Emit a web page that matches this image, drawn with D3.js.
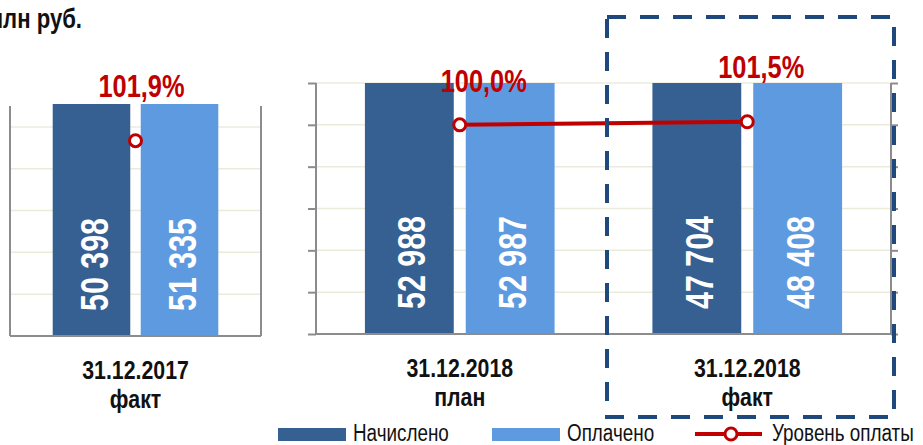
<!DOCTYPE html>
<html>
<head>
<meta charset="utf-8">
<script src="https://cdn.jsdelivr.net/npm/d3@7"></script>
<style>
  body { margin: 0; background: #fff; }
  svg { display: block; font-family: "Liberation Sans Narrow", "Arial Narrow", "Liberation Sans", Arial, sans-serif; }
</style>
</head>
<body>
<svg id="chart" width="923" height="445"></svg>
<script>
"use strict";

// data
const periods = ["31.12.2017", "31.12.2018", "31.12.2018"];
const periodTypes = ["факт", "план", "факт"];
const accrued = [50398, 52988, 47704];
const paid = [51335, 52987, 48408];
const payLevel = [101.9, 100.0, 101.5];
const seriesNames = ["Начислено", "Оплачено", "Уровень оплаты"];
const barKeys = ["accrued", "paid"];

const DARK = "#366092", LIGHT = "#5E9AE0", RED = "#C00000", AXIS = "#8c8c8c", GRID = "#ebebdc";
// no narrow font installed, so squeeze the regular one horizontally
const SQUEEZE = 0.82;

let svg = d3.select("#chart");

// place a text at (x,y), optionally rotated, squeezed along its own direction
function place(sel, fx, fy, rot, k) {
    sel.attr("transform", function(d, i) {
        let t = `translate(${fx(d, i)},${fy(d, i)})`;
        if (rot) t += ` rotate(${rot})`;
        return t + ` scale(${k || SQUEEZE},1)`;
    });
}

// two plot panels: the first holds the 2017 column, the second the 2018 columns
let panels = [
    {idx: [0], x0: 10, x1: 261, top: 106, bottom: 336, max: 41250, ticksOut: false},
    {idx: [1, 2], x0: 316, x1: 891, top: 83, bottom: 334, max: 45000, ticksOut: true}
];

// label nudges (Excel labels were moved by hand)
let labelNudge = [{dx: 6, dy: -44}, {dx: 24, dy: -33}, {dx: 14, dy: -44}];

let color = d3.scaleOrdinal().domain(barKeys).range([DARK, LIGHT]);

panels.forEach(p => {
    let x = d3.scaleBand().domain(p.idx).range([p.x0, p.x1]);
    let xs = d3.scaleBand().domain(barKeys).range([0, x.bandwidth()]).paddingInner(0.119).paddingOuter(0.485);
    let y = d3.scaleLinear().domain([0, p.max]).range([p.bottom, p.top]).clamp(true);
    let y2 = d3.scaleLinear().domain([0, 120]).range([p.bottom, p.top]);
    let g = svg.append("g");

    // grid lines
    let ticks = d3.range(0, p.max + 1, 7500);
    g.selectAll(".grid").data(ticks.filter(t => t > 0)).enter().append("line")
        .attr("x1", p.x0).attr("x2", p.x1)
        .attr("y1", d => y(d)).attr("y2", d => y(d))
        .attr("stroke", GRID).attr("stroke-width", 1.5);

    // bars
    let groups = g.selectAll(".grp").data(p.idx).enter().append("g")
        .attr("transform", i => `translate(${x(i)},0)`);
    let cells = groups.selectAll("g").data(i => [
        {key: "accrued", value: accrued[i]},
        {key: "paid", value: paid[i]}
    ]).enter().append("g");
    cells.append("rect")
        .attr("x", d => xs(d.key))
        .attr("y", d => y(d.value) - (p.ticksOut ? 0 : 2))
        .attr("width", xs.bandwidth())
        .attr("height", d => y(0) - y(d.value) + (p.ticksOut ? 0 : 2))
        .attr("fill", d => color(d.key));
    cells.append("text")
        .attr("dy", "0.36em")
        .attr("fill", "#fff").attr("font-weight", "bold").attr("font-size", "39px")
        .text(d => d3.format(",")(d.value).replace(/,/g, " "))
        .call(place, d => xs(d.key) + xs.bandwidth() / 2 + 2, () => y(0) - 25, -90, 0.78);

    // axes
    let axisL = d3.axisLeft(y).tickValues(ticks).tickSize(p.ticksOut ? 8 : 0).tickFormat("");
    let axisR = d3.axisRight(y).tickValues(ticks).tickSize(p.ticksOut ? 7 : 0).tickFormat("");
    [[axisL, p.x0], [axisR, p.x1]].forEach(([ax, xp]) => {
        let a = g.append("g").attr("transform", `translate(${xp},0)`).call(ax);
        a.selectAll("path,line").attr("stroke", AXIS).attr("stroke-width", 2);
        a.select(".domain").attr("d", `M0,${p.top}V${p.bottom}`);
    });
    g.append("line").attr("x1", p.x0).attr("x2", p.x1).attr("y1", p.bottom).attr("y2", p.bottom)
        .attr("stroke", AXIS).attr("stroke-width", 2);

    // category labels, two lines
    let cx = i => x(i) + x.bandwidth() / 2;
    [[periods, 43], [periodTypes, 72]].forEach(([arr, off]) => {
        g.selectAll(null).data(p.idx).enter().append("text")
            .attr("text-anchor", "middle").attr("font-weight", "bold").attr("font-size", "26px").attr("fill", "#111")
            .text(i => arr[i])
            .call(place, cx, () => p.bottom + off);
    });

    // payment level line
    let line = d3.line().x(i => cx(i)).y(i => y2(payLevel[i]));
    g.append("path").datum(p.idx).attr("d", line)
        .attr("fill", "none").attr("stroke", RED).attr("stroke-width", 4);
    g.selectAll(".pt").data(p.idx).enter().append("circle")
        .attr("cx", cx).attr("cy", i => y2(payLevel[i])).attr("r", 6)
        .attr("fill", "#fff").attr("stroke", RED).attr("stroke-width", 3);
    g.selectAll(".pl").data(p.idx).enter().append("text")
        .attr("text-anchor", "middle").attr("font-weight", "bold").attr("font-size", "31px").attr("fill", RED)
        .text(i => d3.format(".1f")(payLevel[i]).replace(".", ",") + "%")
        .call(place, i => cx(i) + labelNudge[i].dx, i => y2(payLevel[i]) + labelNudge[i].dy);
});

// units
svg.append("text").datum(0).attr("text-anchor", "end")
    .attr("font-weight", "bold").attr("font-size", "27px").attr("fill", "#111").text("млн руб.")
    .call(place, () => 82, () => 28);

// highlight box round the 2018 fact column
svg.append("rect").attr("x", 607).attr("y", 17).attr("width", 287).attr("height", 400)
    .attr("fill", "none").attr("stroke", "#1f487c").attr("stroke-width", 4).attr("stroke-dasharray", "19 14");

// legend
let legend = svg.append("g").attr("font-size", "23px").attr("fill", "#111");
[[278, DARK], [492, LIGHT]].forEach(([lx, c], i) => {
    legend.append("rect").attr("x", lx).attr("y", 428).attr("width", 68).attr("height", 13).attr("fill", c);
    legend.append("text").datum(i).text(seriesNames[i]).call(place, () => lx + 75, () => 441);
});
legend.append("line").attr("x1", 695).attr("x2", 762).attr("y1", 434).attr("y2", 434)
    .attr("stroke", RED).attr("stroke-width", 4);
legend.append("circle").attr("cx", 731).attr("cy", 434).attr("r", 6)
    .attr("fill", "#fff").attr("stroke", RED).attr("stroke-width", 3);
legend.append("text").datum(2).text(seriesNames[2]).call(place, () => 772, () => 441);
</script>
</body>
</html>
